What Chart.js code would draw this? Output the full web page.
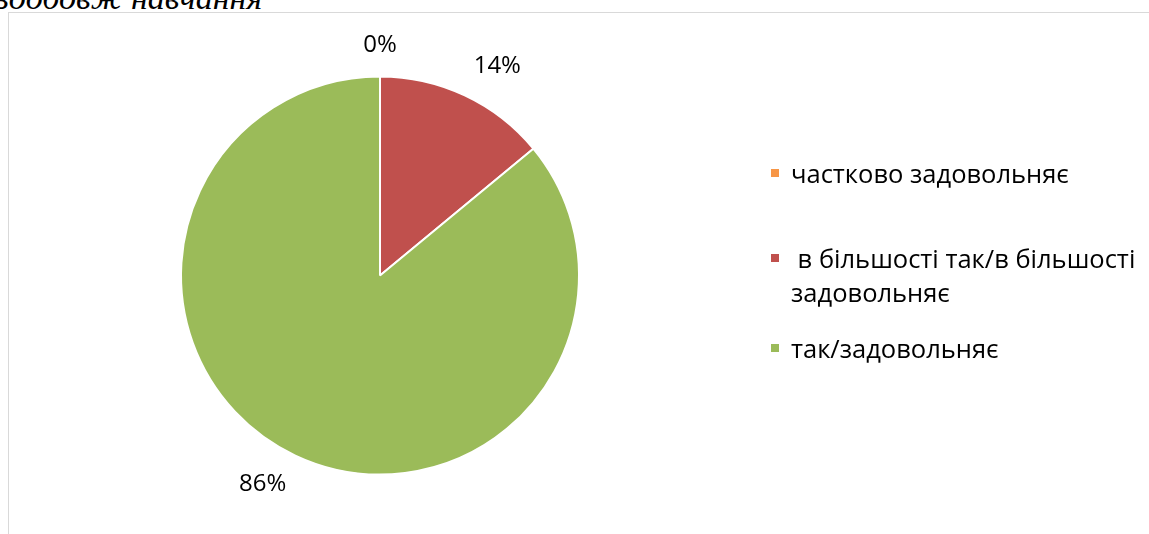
<!DOCTYPE html>
<html>
<head>
<meta charset="utf-8">
<script src="https://cdn.jsdelivr.net/npm/chart.js@4.4.1/dist/chart.umd.min.js"></script>
<style>
  html, body { margin: 0; padding: 0; background: #fff; }
  #wrap { position: relative; width: 1149px; height: 534px; overflow: hidden; }
  #caption { position: absolute; left: -4px; top: -21px; font: italic 34px "Liberation Serif", serif; color: #000; white-space: nowrap; }
  #frame { position: absolute; left: 8px; top: 12px; width: 1200px; height: 600px; border: 1px solid #d9d9d9; box-sizing: border-box; }
  #chart { position: absolute; left: 0; top: 0; }
  .leg { position: absolute; left: 771px; font: 25.5px "Open Sans", sans-serif; color: #000; line-height: 34px; }
  .leg i { position: absolute; left: 0; top: 13px; width: 8px; height: 8px; }
  .leg span { display: block; margin-left: 20px; white-space: pre; }
</style>
</head>
<body>
<div id="wrap">
  <div id="caption">зообовж навчання</div>
  <div id="frame"></div>
  <canvas id="chart" width="1149" height="534"></canvas>
  <div id="legend"></div>
</div>
<script>
// дані з діаграми
const labels = ['частково задовольняє', ' в більшості так/в більшості\nзадовольняє', 'так/задовольняє'];
const values = [0, 14, 86];
const colors = ['#F79646', '#C0504D', '#9BBB59'];
const legendTops = [156, 241, 331];

// підписи відсотків поза секторами
const outLabels = {
    id: 'outLabels',
    afterDatasetsDraw(chart) {
        const ctx = chart.ctx;
        const meta = chart.getDatasetMeta(0);
        const total = values.reduce((a, b) => a + b, 0);
        ctx.save();
        ctx.font = '24px "Open Sans", sans-serif';
        ctx.fillStyle = '#000';
        ctx.textAlign = 'center';
        ctx.textBaseline = 'middle';
        meta.data.forEach((arc, i) => {
            const p = arc.getProps(['x', 'y', 'startAngle', 'endAngle', 'outerRadius'], true);
            const mid = (p.startAngle + p.endAngle) / 2;
            const r = p.outerRadius + 21;
            const dx = Math.cos(mid), dy = Math.sin(mid);
            const txt = Math.round(values[i] / total * 100) + '%';
            const hw = ctx.measureText(txt).width / 2, hh = 10;
            const sx = Math.abs(dx) < 0.05 ? 0 : Math.sign(dx);
            const sy = Math.abs(dy) < 0.05 ? 0 : Math.sign(dy);
            ctx.fillText(txt, p.x + r * dx + hw * sx, p.y + r * dy + hh * sy);
        });
        ctx.restore();
    }
};

new Chart(document.getElementById('chart'), {
    type: 'pie',
    data: {
        labels: labels,
        datasets: [{
            data: values,
            backgroundColor: colors,
            borderColor: '#ffffff',
            borderWidth: 2
        }]
    },
    options: {
        responsive: false,
        animation: false,
        layout: { padding: { left: 180, right: 569, top: 75, bottom: 58 } },
        plugins: { legend: { display: false }, tooltip: { enabled: false } }
    },
    plugins: [outLabels]
});

// легенда справа
const legend = document.getElementById('legend');
labels.forEach((l, i) => {
    const d = document.createElement('div');
    d.className = 'leg';
    d.style.top = legendTops[i] + 'px';
    d.innerHTML = `<i style="background:${colors[i]}"></i><span></span>`;
    d.querySelector('span').textContent = l;
    legend.appendChild(d);
});
</script>
</body>
</html>
